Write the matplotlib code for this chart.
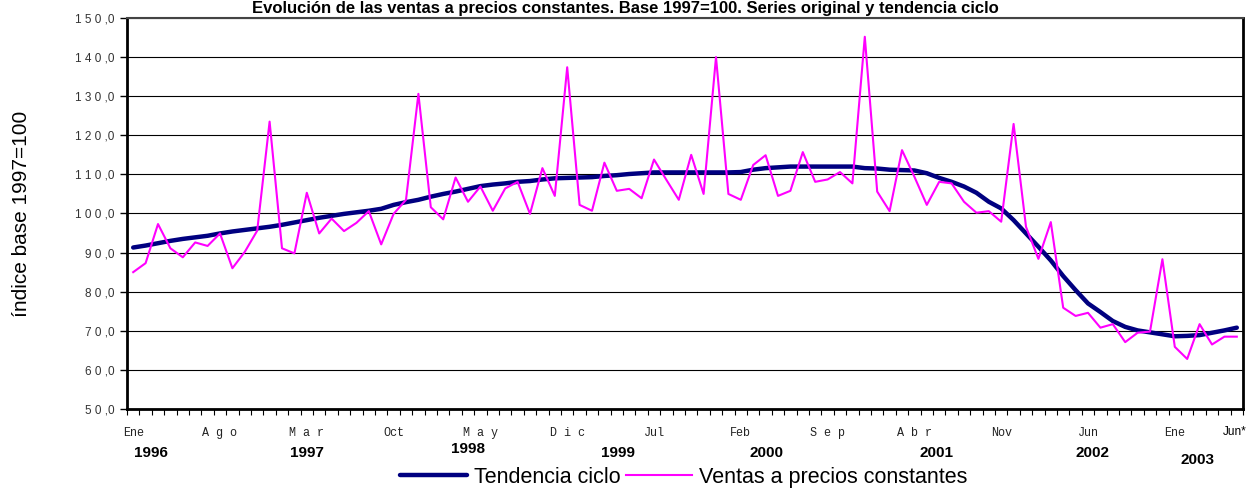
import matplotlib
matplotlib.use("Agg")
import matplotlib.pyplot as plt
import matplotlib.transforms as mtransforms
import numpy as np

# monthly data, Ene 1996 .. Jun 2003 (90 months)
ventas = [
    85.0, 87.3, 97.3, 91.1, 88.8, 92.6, 91.7, 94.9, 86.0, 90.2, 95.6, 123.5,
    91.1, 89.8, 105.3, 94.9, 98.7, 95.5, 97.6, 100.6, 92.1, 99.9, 103.5, 130.6,
    101.6, 98.5, 109.2, 103.0, 106.9, 100.7, 106.4, 108.1, 99.9, 111.6, 104.5, 137.4,
    102.2, 100.7, 113.0, 105.8, 106.3, 103.9, 113.8, 108.6, 103.5, 115.0, 105.0, 140.0,
    105.0, 103.5, 112.4, 114.9, 104.5, 105.8, 115.7, 108.1, 108.7, 110.6, 107.7, 145.2,
    105.6, 100.6, 116.2, 109.4, 102.2, 108.1, 107.7, 103.0, 100.2, 100.6, 97.9, 122.9,
    96.6, 88.4, 97.8, 75.9, 73.8, 74.6, 70.8, 71.7, 67.1, 69.5, 69.8, 88.3,
    65.9, 62.8, 71.7, 66.5, 68.5, 68.5,
]
tendencia = [
    91.3, 91.8, 92.4, 93.0, 93.5, 93.9, 94.3, 94.9, 95.4, 95.8, 96.2, 96.6,
    97.1, 97.7, 98.3, 98.9, 99.4, 99.9, 100.3, 100.7, 101.2, 102.2, 102.9, 103.5,
    104.3, 105.0, 105.6, 106.3, 107.0, 107.4, 107.7, 108.1, 108.3, 108.7, 109.0, 109.1,
    109.2, 109.3, 109.6, 109.8, 110.1, 110.3, 110.5, 110.5, 110.5, 110.5, 110.5, 110.5,
    110.5, 110.6, 111.2, 111.6, 111.8, 112.0, 112.0, 112.0, 112.0, 112.0, 112.0, 111.6,
    111.5, 111.2, 111.1, 111.0, 110.3, 109.1, 108.1, 106.9, 105.3, 103.0, 101.3, 98.3,
    94.9, 91.5, 88.0, 84.0, 80.4, 77.0, 74.8, 72.5, 71.0, 70.1, 69.6, 69.1,
    68.6, 68.7, 68.9, 69.5, 70.1, 70.8,
]

month_labels = ["Ene", "Ago", "Mar", "Oct", "May", "Dic", "Jul",
                "Feb", "Sep", "Abr", "Nov", "Jun", "Ene"]
month_label_idx = list(range(0, 85, 7))
year_labels = ["1996", "1997", "1998", "1999", "2000", "2001", "2002", "2003"]

# layout of the year captions (month position, figure y)
year_pos = [1.4, 14.0, 27.0, 39.1, 51.1, 64.8, 77.4, 85.8]
year_y = [0.075, 0.075, 0.083, 0.075, 0.075, 0.075, 0.075, 0.062]

TREND_COLOR = "#000080"
SALES_COLOR = "#FF00FF"

plt.rcParams["font.family"] = ["Liberation Sans", "DejaVu Sans"]

fig = plt.figure(figsize=(12.5, 4.9), dpi=100)
ax = fig.add_axes([0.1016, 0.1653, 0.8928, 0.798])

x = np.arange(len(ventas))
ax.plot(x, tendencia, color=TREND_COLOR, lw=3.2, solid_capstyle="round",
        label="Tendencia ciclo", zorder=3)
ax.plot(x, ventas, color=SALES_COLOR, lw=1.5, label="Ventas a precios constantes",
        zorder=4)

ax.set_xlim(-0.5, len(ventas) - 0.5)
ax.set_ylim(50, 150)

yt = np.arange(50, 151, 10)
ax.set_yticks(yt)
ax.set_yticklabels([" ".join(str(v)) + " ,0" for v in yt],
                   fontsize=8.5, color="#333333")
ax.tick_params(axis="y", direction="out", length=5, width=1, pad=4)
ax.yaxis.grid(True, color="black", lw=0.8)
ax.set_axisbelow(True)

ax.set_xticks(np.arange(-0.5, len(ventas), 1.0))
ax.set_xticklabels([])
ax.tick_params(axis="x", which="major", direction="out", length=4, width=0.8)
ax.set_xticks(month_label_idx, minor=True)
ax.set_xticklabels([" ".join(m) if m[0] in "AMDSN" and m != "Nov" else m
                    for m in month_labels],
                   minor=True, family="Liberation Mono", fontsize=8.5,
                   color="#222222")
ax.tick_params(axis="x", which="minor", length=0, pad=13)

for side in ["left", "bottom", "right"]:
    ax.spines[side].set_linewidth(2)
ax.spines["top"].set_linewidth(1.5)
ax.spines["top"].set_color("#444444")

ax.set_ylabel("índice base 1997=100", fontsize=15)
ax.yaxis.set_label_coords(-0.086, 0.5)

trans = mtransforms.blended_transform_factory(ax.transData, fig.transFigure)
for lab, px, py in zip(year_labels, year_pos, year_y):
    ax.text(px, py, lab, transform=trans, ha="center", va="center",
            fontsize=11, fontweight="bold",
            family=["Liberation Sans Narrow", "Liberation Sans"])
ax.text(len(ventas) - 1.2, 0.118, "Jun*", transform=trans, ha="center",
        va="center", fontsize=8.5)

fig.text(0.5, 0.997, "Evolución de las ventas a precios constantes. Base 1997=100. "
         "Series original y tendencia ciclo", ha="center", va="top",
         fontsize=12, fontweight="bold")

leg = ax.legend(loc="center", bbox_to_anchor=(0.547, 0.026),
                bbox_transform=fig.transFigure, ncol=2, frameon=False,
                fontsize=15.5, handlelength=3.1, handletextpad=0.3,
                columnspacing=0.25, borderaxespad=0, borderpad=0)

fig.savefig("out.png", dpi=100)
